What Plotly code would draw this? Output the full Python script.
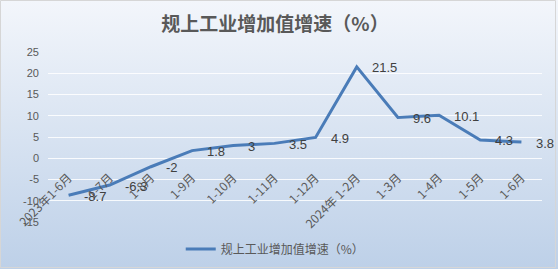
import base64
import plotly.graph_objects as go

categories = ["2023年1-6月", "1-7月", "1-8月", "1-9月", "1-10月", "1-11月", "1-12月",
              "2024年 1-2月", "1-3月", "1-4月", "1-5月", "1-6月"]
growth = [-8.7, -6.3, -2, 1.8, 3, 3.5, 4.9, 21.5, 9.6, 10.1, 4.3, 3.8]
value_labels = ["-8.7", "-6.3", "-2", "1.8", "3", "3.5", "4.9", "21.5", "9.6", "10.1", "4.3", "3.8"]
y_ticks = [-15, -10, -5, 0, 5, 10, 15, 20, 25]
series_name = "规上工业增加值增速（%）"
title_text = "规上工业增加值增速（%）"

W, H = 558, 269
ML, MR, MT, MB = 48, 16, 52, 47
PW, PH = W - ML - MR, H - MT - MB
YMIN, YMAX = -15, 25

svg = (
    f'<svg xmlns="http://www.w3.org/2000/svg" width="{W}" height="{H}" preserveAspectRatio="none">'
    '<defs><linearGradient id="g" x1="0" y1="0" x2="0" y2="1">'
    '<stop offset="0" stop-color="#f3f6fb"/>'
    '<stop offset="1" stop-color="#bdd0e8"/>'
    '</linearGradient></defs>'
    f'<rect width="{W}" height="{H}" fill="url(#g)"/></svg>'
)
src = "data:image/svg+xml;base64," + base64.b64encode(svg.encode()).decode()

fig = go.Figure()
fig.add_trace(go.Scatter(
    x=categories, y=growth, mode="lines", name=series_name,
    line=dict(color="#4a7cb8", width=3),
    hoverinfo="skip",
))

annotations = []
for c, v, t in zip(categories, growth, value_labels):
    annotations.append(dict(
        x=c, y=v, xref="x", yref="y", text=t, showarrow=False,
        xanchor="left", yanchor="middle", xshift=13, yshift=-1,
        font=dict(family="Liberation Sans, Arial", size=13, color="#404040"),
    ))

zero_pos = (0 - YMIN) / (YMAX - YMIN)

fig.update_layout(
    width=W, height=H,
    margin=dict(l=ML, r=MR, t=MT, b=MB, pad=0, autoexpand=False),
    paper_bgcolor="#dfe8f3",
    plot_bgcolor="rgba(0,0,0,0)",
    title=dict(
        text="<b>" + title_text + "</b>",
        x=(275 - ML) / PW, xref="paper", xanchor="center",
        y=1 - 24 / H, yref="container", yanchor="middle",
        font=dict(family="Noto Sans CJK SC", size=19, color="#595959"),
    ),
    xaxis=dict(
        type="category",
        categoryorder="array", categoryarray=categories,
        range=[-0.5, len(categories) - 0.5],
        anchor="free", position=zero_pos,
        showgrid=False, zeroline=False, showline=False,
        ticks="outside", ticklen=7, tickcolor="rgba(0,0,0,0)", tickangle=-45,
        tickfont=dict(family="Noto Sans CJK SC", size=12, color="#595959"),
    ),
    yaxis=dict(
        range=[YMIN, YMAX], tickvals=y_ticks, ticktext=[str(v) for v in y_ticks],
        showgrid=True, gridcolor="rgba(255,255,255,0.85)", gridwidth=1,
        zeroline=False, showline=False, ticks="",
        ticklabelstandoff=8,
        tickfont=dict(family="Liberation Sans, Arial", size=11, color="#595959"),
    ),
    showlegend=True,
    legend=dict(
        orientation="h", x=0.46, xanchor="center",
        yref="paper", y=-(249 - MT - PH) / PH, yanchor="middle",
        bgcolor="rgba(0,0,0,0)",
        font=dict(family="Noto Sans CJK SC", size=12, color="#595959"),
        itemwidth=30,
    ),
    annotations=annotations,
    images=[dict(
        source=src, xref="paper", yref="paper",
        x=-ML / PW, y=1 + MT / PH, sizex=W / PW, sizey=H / PH,
        xanchor="left", yanchor="top", sizing="stretch", layer="below",
    )],
    shapes=[dict(
        type="rect", xref="paper", yref="paper",
        x0=-ML / PW + 0.5 / PW, x1=1 + (MR - 2.5) / PW,
        y0=-(MB - 1.5) / PH, y1=1 + (MT - 0.5) / PH,
        line=dict(color="#d6d6d6", width=1), fillcolor="rgba(0,0,0,0)", layer="above",
    )],
)

fig.write_html("out.html")
